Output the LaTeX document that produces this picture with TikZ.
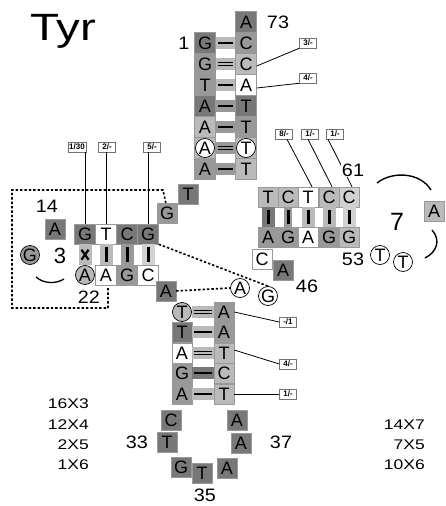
\documentclass[tikz,border=0pt]{standalone}
\usepackage{fontspec}
\setmainfont{Liberation Sans}
\newfontfamily\widefont[FakeStretch=1.25]{Liberation Sans}
\newfontfamily\numfont[FakeStretch=1.1]{Liberation Sans}
\usetikzlibrary{calc}
\definecolor{dk}{gray}{0.47}
\definecolor{md}{gray}{0.6}
\definecolor{lt}{gray}{0.73}
\definecolor{vl}{gray}{0.82}
\begin{document}
\begin{tikzpicture}[x=1pt,y=-1pt,
 bx/.style={rectangle, minimum width=20pt, minimum height=20pt, inner sep=0pt, draw=black!40, line width=0.5pt, font=\fontsize{18}{18}\selectfont},
 bdk/.style={bx, fill=dk}, bmd/.style={bx, fill=md}, blt/.style={bx, fill=lt}, bvl/.style={bx, fill=vl}, bwh/.style={bx, fill=white},
 cir/.style={circle, minimum size=19pt, inner sep=0pt, draw=black, line width=0.7pt, fill=white, font=\fontsize{18}{18}\selectfont},
 lbl/.style={rectangle, draw=black!55, fill=white, line width=0.5pt, inner sep=1.2pt, minimum height=10pt, minimum width=17pt, font=\bfseries\fontsize{8}{8}\selectfont},
 num/.style={font=\numfont\fontsize{18}{18}\selectfont, inner sep=0pt},
 cnt/.style={font=\widefont\fontsize{14}{17}\selectfont, inner sep=0pt, anchor=east},
 hb/.style={line width=12pt},
 hbl/.style={line width=2.6pt, shorten >=2pt, shorten <=2pt},
 vb/.style={line width=13pt},
 vbl/.style={line width=3pt, shorten >=2.5pt, shorten <=2.5pt},
 conn/.style={line width=0.8pt},
 tert/.style={line width=1.6pt, dash pattern=on 2.4pt off 2pt}]
\useasboundingbox (0,0) rectangle (446,506);

% title
\node[anchor=base west, inner sep=0pt, font=\widefont\fontsize{38}{38}\selectfont] (title) at (30,40) {Tyr};

% dashed D-region outline
\draw[tert] (108,288) -- (108,308) -- (12,308) -- (12,190) -- (163,190) -- (166,204);

% ---------- acceptor stem ----------
\node[bdk, minimum width=21pt, minimum height=21pt] (a73) at (246,22) {A};
\node[bdk, minimum width=21pt, minimum height=21pt] (aL1) at (205,43) {G};
\node[bmd, minimum width=21pt, minimum height=21pt] (aR1) at (246,43) {C};
\node[bmd, minimum width=21pt, minimum height=21pt] (aL2) at (205,64) {G};
\node[blt, minimum width=21pt, minimum height=21pt] (aR2) at (246,64) {C};
\node[bmd, minimum width=21pt, minimum height=21pt] (aL3) at (205,85) {T};
\node[bwh, minimum width=21pt, minimum height=21pt] (aR3) at (246,85) {A};
\node[bdk, minimum width=21pt, minimum height=21pt] (aL4) at (205,106) {A};
\node[bdk, minimum width=21pt, minimum height=21pt] (aR4) at (246,106) {T};
\node[blt, minimum width=21pt, minimum height=21pt] (aL5) at (205,127) {A};
\node[bmd, minimum width=21pt, minimum height=21pt] (aR5) at (246,127) {T};
\node[blt, minimum width=21pt, minimum height=21pt] (bgL6) at (205,148) {};
\node[blt, minimum width=21pt, minimum height=21pt] (bgR6) at (246,148) {};
\node[cir] (aL6) at (205,148) {A};
\node[cir] (aR6) at (246,148) {T};
\node[bmd, minimum width=21pt, minimum height=21pt] (aL7) at (205,169) {A};
\node[blt, minimum width=21pt, minimum height=21pt] (aR7) at (246,169) {T};
\node[num] (n1) at (184,43) {1};
\node[num] (n73) at (278,22) {73};

\draw[hb, draw=lt] (aL1.east) -- (aR1.west); \draw[hbl] (aL1.east) -- (aR1.west);
\draw[hb, draw=lt] (aL2.east) -- (aR2.west); \draw[hbl, line width=1.2pt, double=lt, double distance=1.6pt] (aL2.east) -- (aR2.west);
\draw[hb, draw=lt] (aL3.east) -- (aR3.west); \draw[hbl] (aL3.east) -- (aR3.west);
\draw[hb, draw=md] (aL4.east) -- (aR4.west); \draw[hbl] (aL4.east) -- (aR4.west);
\draw[hb, draw=md] (aL5.east) -- (aR5.west); \draw[hbl] (aL5.east) -- (aR5.west);
\draw[hb, draw=md] (bgL6.east) -- (bgR6.west); \draw[hbl, line width=1.2pt, double=md, double distance=1.6pt] (bgL6.east) -- (bgR6.west);
\draw[hb, draw=md] (aL7.east) -- (aR7.west); \draw[hbl] (aL7.east) -- (aR7.west);

\node[lbl] (l3) at (308,43) {3/-};
\node[lbl] (l4) at (308,78) {4/-};
\draw[conn] (l3.south west) -- ([yshift=-2pt]aR2.east);
\draw[conn] (l4.south west) -- ([yshift=-3pt]aR3.east);

% ---------- connector to D arm ----------
\node[bdk] (nT) at (188,194) {T};
\node[bmd] (nG) at (167,213) {G};

% ---------- D arm ----------
\node[bdk] (dA14) at (55,229) {A};
\node[num] (n14) at (47,206) {14};
\node[bdk, minimum width=21pt] (dG1) at (85,234) {G};
\node[bwh, minimum width=21pt] (dT2) at (106,234) {T};
\node[bdk, minimum width=21pt] (dC3) at (127,234) {C};
\node[bdk, minimum width=21pt] (dG4) at (148,234) {G};
\node[cir, fill=lt] (dA1) at (85,275) {A};
\node[bwh, minimum width=21pt] (dA2) at (106,275) {A};
\node[bmd, minimum width=21pt] (dG3) at (127,275) {G};
\node[bwh, minimum width=21pt] (dC4) at (148,275) {C};
\node[cir, fill=md] (dGc) at (30,255) {G};
\node[font=\fontsize{22}{22}\selectfont, inner sep=0pt] (n3) at (60,256) {3};
\node[num] (n22) at (89,297) {22};
\draw[line width=1.3pt] (36,277) .. controls (44,284) and (56,284) .. (64,279);

\draw[vb, draw=lt] (dG1.south) -- (dA1.north);
\coordinate (xm) at ($(dG1.south)!0.5!(dA1.north)$);
\draw[line width=2.2pt] ([shift={(-3.5pt,-5pt)}]xm) -- ([shift={(3.5pt,5pt)}]xm);
\draw[line width=2.2pt] ([shift={(3.5pt,-5pt)}]xm) -- ([shift={(-3.5pt,5pt)}]xm);
\draw[vb, draw=lt] (dT2.south) -- (dA2.north); \draw[vbl] (dT2.south) -- (dA2.north);
\draw[vb, draw=md] (dC3.south) -- (dG3.north); \draw[vbl] (dC3.south) -- (dG3.north);
\draw[vb, draw=vl] (dG4.south) -- (dC4.north); \draw[vbl] (dG4.south) -- (dC4.north);

\node[lbl] (d130) at (77,147) {1/30};
\node[lbl] (d2) at (107,147) {2/-};
\node[lbl] (d5) at (152,147) {5/-};
\draw[conn, line width=1pt] (d130.south -| dG1.north) -- (dG1.north);
\draw[conn, line width=1pt] (d2.south -| dT2.north) -- (dT2.north);
\draw[conn, line width=1pt] (d5.south -| dG4.north) -- (dG4.north);

% ---------- variable region ----------
\node[bdk] (nA) at (166,291) {A};
\node[bwh] (nC) at (262,259) {C};
\node[bdk] (nA46) at (283,270) {A};
\node[num] (n46) at (307,286) {46};
\node[cir] (cA) at (240,288) {A};
\node[cir] (cG) at (268,296) {G};
\draw[tert] (dG4.south east) -- (cG.north);
\draw[tert] (nA.east) -- (cA.west);

% ---------- T arm ----------
\node[blt] (tT1) at (268,197) {T};
\node[blt] (tT2) at (288,197) {C};
\node[bwh] (tT3) at (308,197) {T};
\node[blt] (tT4) at (329,197) {C};
\node[bvl] (tT5) at (349,197) {C};
\node[bmd] (tB1) at (268,237) {A};
\node[bmd] (tB2) at (288,237) {G};
\node[bwh] (tB3) at (308,237) {A};
\node[bmd] (tB4) at (329,237) {G};
\node[blt] (tB5) at (349,237) {G};
\draw[vb, draw=dk] (tT1.south) -- (tB1.north); \draw[vbl] (tT1.south) -- (tB1.north);
\draw[vb, draw=md, line width=8pt] (tT2.south) -- (tB2.north); \draw[vbl] (tT2.south) -- (tB2.north);
\draw[vb, draw=lt] (tT3.south) -- (tB3.north); \draw[vbl] (tT3.south) -- (tB3.north);
\draw[vb, draw=lt] (tT4.south) -- (tB4.north); \draw[vbl] (tT4.south) -- (tB4.north);
\draw[vb, draw=vl] (tT5.south) -- (tB5.north); \draw[vbl] (tT5.south) -- (tB5.north);

\node[lbl] (l8) at (284,134) {8/-};
\node[lbl] (l1a) at (310,134) {1/-};
\node[lbl] (l1b) at (335,134) {1/-};
\draw[conn] ([xshift=3pt]l8.south) -- ([xshift=4pt]tT3.north);
\draw[conn] ([xshift=-2pt]l1a.south) -- ([xshift=3pt]tT4.north);
\draw[conn] ([xshift=-7pt]l1b.south) -- ([xshift=3pt]tT5.north);
\node[num, fill=white, inner sep=1pt] (n61) at (353,170) {61};
\node[num] (n53) at (353,259) {53};
\node[cir] (cT1) at (380,255) {T};
\node[cir] (cT2) at (403,262) {T};
\node[font=\fontsize{25}{25}\selectfont, inner sep=0pt] (n7) at (397,222) {7};
\node[blt] (nA7) at (434,211) {A};
\draw[line width=1.4pt] (377,183) .. controls (392,171) and (420,172) .. (431,190);
\draw[line width=1.4pt] (432,230) .. controls (441,240) and (437,252) .. (425,258);

% ---------- anticodon stem ----------
\node[cir, fill=lt] (cL1) at (182,312) {T};
\node[bmd] (cR1) at (224,312) {A};
\node[bdk] (cL2) at (182,332) {T};
\node[bmd] (cR2) at (224,332) {A};
\node[bwh] (cL3) at (182,353) {A};
\node[blt] (cR3) at (224,353) {T};
\node[bmd] (cL4) at (182,373) {G};
\node[blt] (cR4) at (224,373) {C};
\node[bmd] (cL5) at (182,394) {A};
\node[blt] (cR5) at (224,394) {T};
\draw[hb, draw=lt] (cL1.east) -- (cR1.west); \draw[hbl, line width=1.2pt, double=lt, double distance=1.6pt] (cL1.east) -- (cR1.west);
\draw[hb, draw=lt] (cL2.east) -- (cR2.west); \draw[hbl] (cL2.east) -- (cR2.west);
\draw[hb, draw=lt] (cL3.east) -- (cR3.west); \draw[hbl, line width=1.2pt, double=lt, double distance=1.6pt] (cL3.east) -- (cR3.west);
\draw[hb, draw=dk] (cL4.east) -- (cR4.west); \draw[hbl] (cL4.east) -- (cR4.west);
\draw[hb, draw=lt] (cL5.east) -- (cR5.west); \draw[hbl] (cL5.east) -- (cR5.west);

\node[lbl] (m1) at (288,322) {-/1};
\node[lbl] (m4) at (288,364) {4/-};
\node[lbl] (m1b) at (288,394) {1/-};
\draw[conn] (cR1.east) -- (m1.west);
\draw[conn] ([yshift=3pt]cR3.east) -- (m4.west);
\draw[conn] (cR5.east) -- (m1b.west);

% ---------- anticodon loop ----------
\node[bdk] (lp1) at (171,420) {C};
\node[bdk] (lp2) at (167,442) {T};
\node[bdk] (lp3) at (181,467) {G};
\node[bdk] (lp4) at (202,473) {T};
\node[bdk] (lp5) at (227,468) {A};
\node[bdk] (lp6) at (241,443) {A};
\node[bdk] (lp7) at (237,420) {A};
\node[num] (n33) at (137,442) {33};
\node[num] (n35) at (205,495) {35};
\node[num] (n37) at (281,442) {37};

% ---------- counts ----------
\node[cnt] (k1) at (89,404) {16X3};
\node[cnt] (k2) at (89,425) {12X4};
\node[cnt] (k3) at (89,445) {2X5};
\node[cnt] (k4) at (89,465) {1X6};
\node[cnt] (k5) at (425,425) {14X7};
\node[cnt] (k6) at (425,445) {7X5};
\node[cnt] (k7) at (425,465) {10X6};
\end{tikzpicture}
\end{document}
